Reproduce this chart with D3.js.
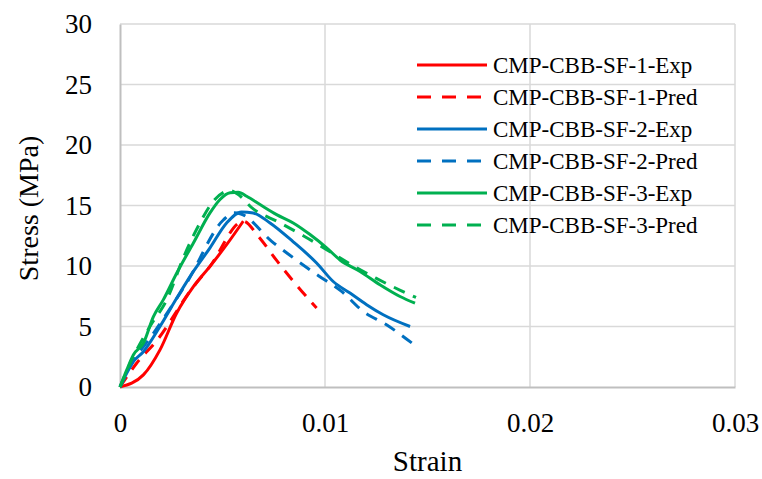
<!DOCTYPE html>
<html>
<head>
<meta charset="utf-8">
<script src="https://cdn.jsdelivr.net/npm/d3@7"></script>
<style>
  body { margin: 0; background: #fff; }
</style>
</head>
<body>
<div id="chart"></div>
<script>
// stress-strain curves, [strain, stress MPa]
const sf1Exp = [[0,0],[0.00114,1.0],[0.00195,3.07],[0.00276,6.1],[0.00358,8.3],[0.00439,9.97],[0.0052,11.76],[0.00601,13.7]];
const sf1Pred = [[0,0],[0.00081,1.96],[0.00187,4.0],[0.00341,7.9],[0.00439,9.97],[0.00601,13.7],[0.00675,12.45],[0.00764,10.46],[0.00849,8.67],[0.00959,6.52]];
const sf2Exp = [[0,0],[0.00024,0.85],[0.00065,2.1],[0.00114,2.92],[0.00195,5.0],[0.00277,7.35],[0.00358,9.55],[0.00439,11.5],[0.0052,13.56],[0.00593,14.47],[0.0065,14.38],[0.00732,13.56],[0.00845,12.0],[0.00959,10.25],[0.0104,8.72],[0.01122,7.76],[0.01203,6.8],[0.01284,5.97],[0.01415,5.0]];
const sf2Pred = [[0,0],[0.00049,1.68],[0.00163,4.44],[0.00325,8.6],[0.00504,13.8],[0.00553,14.4],[0.0059,14.3],[0.0074,12.04],[0.00854,10.57],[0.00968,9.2],[0.01081,7.9],[0.01187,6.24],[0.013,5.14],[0.01434,3.5]];
const sf3Exp = [[0,0],[0.00033,1.41],[0.00065,2.65],[0.00114,3.62],[0.00163,5.82],[0.00211,7.2],[0.00277,9.42],[0.00358,11.9],[0.00439,14.39],[0.00488,15.5],[0.00537,16.05],[0.00577,16.1],[0.00618,15.76],[0.00683,15.08],[0.00764,14.25],[0.00845,13.56],[0.00927,12.6],[0.01008,11.5],[0.01073,10.5],[0.01171,9.55],[0.01268,8.45],[0.01366,7.48],[0.01439,6.93]];
const sf3Pred = [[0,0],[0.00057,2.24],[0.00146,5.0],[0.00228,7.2],[0.00312,10.8],[0.0039,13.56],[0.00455,15.35],[0.00537,16.24],[0.00569,16.0],[0.0065,14.72],[0.00772,13.64],[0.00894,12.5],[0.01008,11.35],[0.0113,10.1],[0.01248,9.0],[0.0137,7.97],[0.01444,7.4]];

const seriesNames = ['CMP-CBB-SF-1-Exp','CMP-CBB-SF-1-Pred','CMP-CBB-SF-2-Exp','CMP-CBB-SF-2-Pred','CMP-CBB-SF-3-Exp','CMP-CBB-SF-3-Pred'];
const seriesData = [sf1Exp, sf1Pred, sf2Exp, sf2Pred, sf3Exp, sf3Pred];
const seriesColors = ['#FF0000','#FF0000','#0070C0','#0070C0','#00B050','#00B050'];
const seriesDashed = [false, true, false, true, false, true];

const xTicks = [0, 0.01, 0.02, 0.03];
const yTicks = [0, 5, 10, 15, 20, 25, 30];

const width = 762;
const height = 479;
const margin = { top: 24, right: 27, bottom: 92, left: 120 };
const serif = '"Liberation Serif", "Times New Roman", "DejaVu Serif", serif';

const svg = d3.select('#chart')
    .append('svg')
    .attr('width', width)
    .attr('height', height)
    .attr('font-family', serif);

const x = d3.scaleLinear()
    .domain([0, 0.03])
    .range([margin.left, width - margin.right]);

const y = d3.scaleLinear()
    .domain([0, 30])
    .range([height - margin.bottom, margin.top]);

// gridlines
svg.append('g')
    .selectAll('line')
    .data(yTicks.slice(1))
    .join('line')
    .attr('x1', x(0)).attr('x2', x(0.03))
    .attr('y1', d => y(d)).attr('y2', d => y(d))
    .attr('stroke', '#D9D9D9').attr('stroke-width', 1.5);

svg.append('g')
    .selectAll('line')
    .data(xTicks.slice(1))
    .join('line')
    .attr('x1', d => x(d)).attr('x2', d => x(d))
    .attr('y1', y(0)).attr('y2', y(30))
    .attr('stroke', '#D9D9D9').attr('stroke-width', 1.5);

// axes, Excel style: grey line, no tick marks
function xAxis(g) {
    g.attr('transform', `translate(0, ${y(0)})`)
     .call(d3.axisBottom(x).tickValues(xTicks).tickSize(0).tickPadding(26).tickFormat(d => d === 0 ? '0' : d3.format('.2f')(d)))
     .attr('font-size', '27px')
     .attr('font-family', serif);
    g.select('.domain').attr('stroke', '#BFBFBF').attr('stroke-width', 2);
}

function yAxis(g) {
    g.attr('transform', `translate(${x(0)}, 0)`)
     .call(d3.axisLeft(y).tickValues(yTicks).tickSize(0).tickPadding(28))
     .attr('font-size', '27px')
     .attr('font-family', serif);
    g.select('.domain').attr('stroke', '#BFBFBF').attr('stroke-width', 2);
}
svg.append('g').call(xAxis);
svg.append('g').call(yAxis);

// curves
const line = d3.line()
    .x(d => x(d[0]))
    .y(d => y(d[1]))
    .curve(d3.curveMonotoneX);

svg.append('g')
    .selectAll('path')
    .data(seriesData)
    .join('path')
    .attr('d', d => line(d))
    .attr('fill', 'none')
    .attr('stroke', (d, i) => seriesColors[i])
    .attr('stroke-width', 3)
    .attr('stroke-dasharray', (d, i) => seriesDashed[i] ? '12,9' : null);

// legend
const legend = svg.append('g').attr('transform', 'translate(417, 65)');
const rows = legend.selectAll('g')
    .data(seriesNames)
    .join('g')
    .attr('transform', (d, i) => `translate(0, ${i * 32})`);
rows.append('line')
    .attr('x1', 0).attr('x2', 70)
    .attr('stroke', (d, i) => seriesColors[i])
    .attr('stroke-width', 3)
    .attr('stroke-dasharray', (d, i) => seriesDashed[i] ? '14,11' : null);
rows.append('text')
    .attr('x', 76)
    .attr('dy', '0.35em')
    .attr('font-size', '23px')
    .text(d => d);

// axis titles
svg.append('text')
    .attr('x', (x(0) + x(0.03)) / 2)
    .attr('y', 471)
    .attr('text-anchor', 'middle')
    .attr('font-size', '29px')
    .text('Strain');

svg.append('text')
    .attr('transform', `translate(38, ${(y(0) + y(30)) / 2 + 3}) rotate(-90)`)
    .attr('text-anchor', 'middle')
    .attr('font-size', '28px')
    .text('Stress (MPa)');
</script>
</body>
</html>
